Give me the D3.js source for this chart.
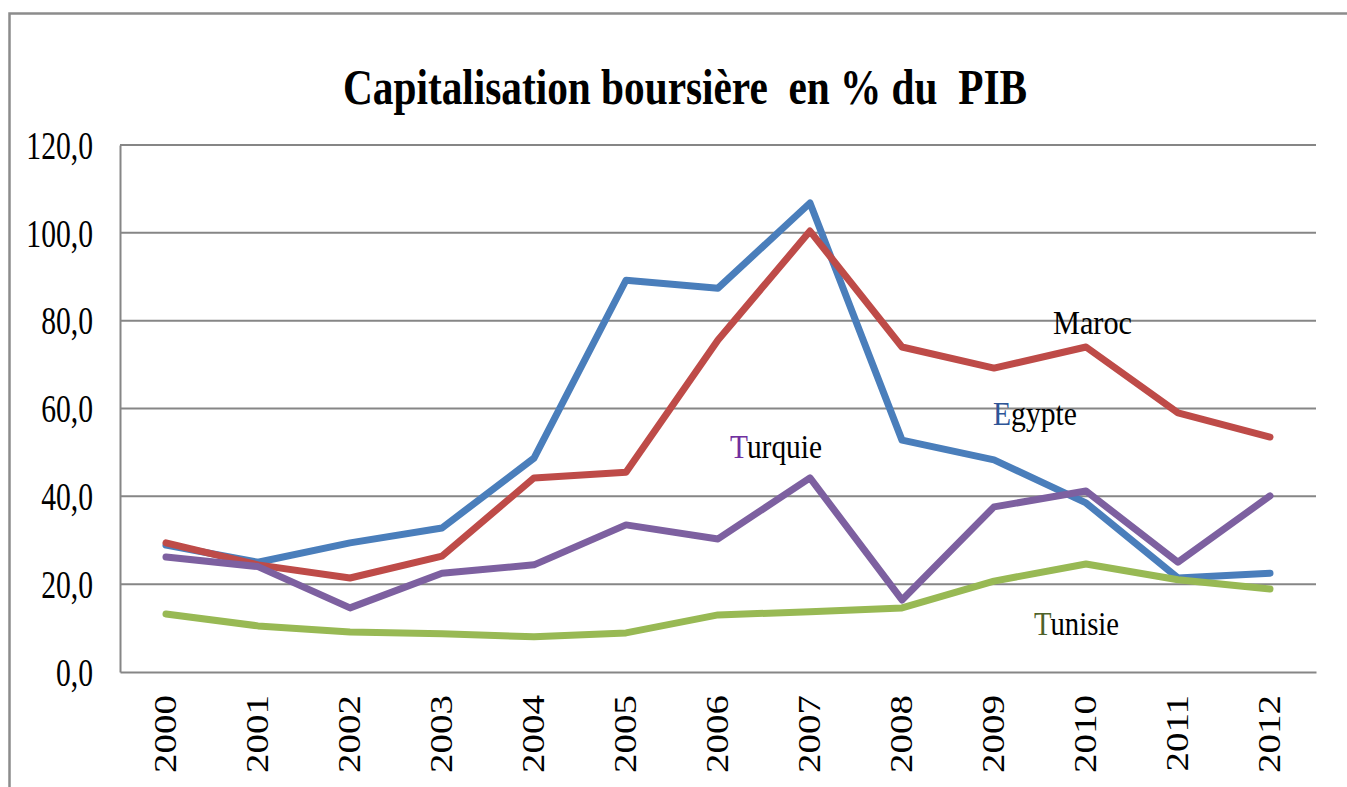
<!DOCTYPE html>
<html>
<head>
<meta charset="utf-8">
<script src="https://cdn.jsdelivr.net/npm/d3@7"></script>
<style>
  body { margin: 0; background: #fff; }
  svg { display: block; font-family: 'Liberation Serif', 'Times New Roman', serif; }
</style>
</head>
<body>
<div class="canvas"></div>
<script>
const years = ['2000', '2001', '2002', '2003', '2004', '2005', '2006', '2007', '2008', '2009', '2010', '2011', '2012']
const egypte = [28.9, 25.0, 29.4, 32.8, 48.7, 89.2, 87.4, 106.8, 52.8, 48.3, 38.5, 21.4, 22.5]
const maroc = [29.4, 24.4, 21.4, 26.4, 44.2, 45.5, 75.6, 100.4, 74.0, 69.2, 74.0, 59.0, 53.5]
const turquie = [26.2, 24.0, 14.6, 22.5, 24.4, 33.5, 30.3, 44.2, 16.4, 37.6, 41.2, 25.0, 40.1]
const tunisie = [13.2, 10.5, 9.1, 8.7, 8.0, 8.9, 13.0, 13.7, 14.6, 20.7, 24.6, 21.0, 18.9]
const yTicks = [0, 20, 40, 60, 80, 100, 120]

const width = 1347
const height = 787
const margin = { top: 145, right: 31, bottom: 115, left: 120 }
const graphWidth = width - margin.left - margin.right
const graphHeight = height - margin.top - margin.bottom

const svg = d3.select('.canvas').append('svg')
  .attr('width', width)
  .attr('height', height)

// outer frame (runs off the right and bottom edges)
svg.append('rect')
  .attr('x', 9.5).attr('y', 13.5)
  .attr('width', 1400).attr('height', 900)
  .attr('fill', 'none')
  .attr('stroke', '#8c8c8c')
  .attr('stroke-width', 2.5)

svg.append('text')
  .attr('x', 343).attr('y', 104)
  .attr('font-size', 50)
  .attr('font-weight', 'bold')
  .attr('textLength', 684)
  .attr('lengthAdjust', 'spacingAndGlyphs')
  .style('white-space', 'pre')
  .text('Capitalisation boursière  en % du  PIB')

const graph = svg.append('g')
  .attr('transform', `translate(${margin.left}, ${margin.top})`)

const x = d3.scaleBand()
  .domain(years)
  .range([0, graphWidth])

const y = d3.scaleLinear()
  .domain([0, 120])
  .range([graphHeight, 0])

// gridlines
graph.append('g').selectAll('line')
  .data(yTicks.filter(d => d > 0))
  .enter().append('line')
  .attr('x1', 0).attr('x2', graphWidth)
  .attr('y1', d => y(d)).attr('y2', d => y(d))
  .attr('stroke', '#868686')
  .attr('stroke-width', 2)

const yAxis = d3.axisLeft(y)
  .tickValues(yTicks)
  .tickSize(0)
  .tickFormat(d => d3.format('.1f')(d).replace('.', ','))

const xAxis = d3.axisBottom(x)
  .tickSize(0)

const yAxisGroup = graph.append('g').call(yAxis)
const xAxisGroup = graph.append('g')
  .attr('transform', `translate(0,${graphHeight})`)
  .call(xAxis)

yAxisGroup.select('.domain').attr('stroke', '#868686').attr('stroke-width', 2)
xAxisGroup.select('.domain').attr('stroke', '#868686').attr('stroke-width', 2)

yAxisGroup.selectAll('text')
  .attr('x', 0)
  .attr('dy', '0.34em')
  .attr('transform', 'translate(-27,0) scale(0.76,1)')
  .attr('font-family', "'Liberation Serif', serif")
  .attr('font-size', 39)
  .attr('fill', '#000')

xAxisGroup.selectAll('text')
  .attr('x', 0).attr('y', 0)
  .attr('dy', '0.33em')
  .attr('text-anchor', 'end')
  .attr('transform', 'translate(0,23) scale(0.8,1) rotate(-90)')
  .attr('font-family', "'Liberation Serif', serif")
  .attr('font-size', 39)
  .attr('fill', '#000')

const series = [
  { name: 'Egypte', values: egypte, color: '#4a7ebb' },
  { name: 'Maroc', values: maroc, color: '#be4b48' },
  { name: 'Turquie', values: turquie, color: '#7d60a0' },
  { name: 'Tunisie', values: tunisie, color: '#98b954' }
]

const line = d3.line()
  .x((d, i) => x(years[i]) + x.bandwidth() / 2)
  .y(d => y(d))

graph.selectAll('path.serie')
  .data(series)
  .enter().append('path')
  .attr('class', 'serie')
  .attr('d', d => line(d.values))
  .attr('fill', 'none')
  .attr('stroke', d => d.color)
  .attr('stroke-width', 7)
  .attr('stroke-linecap', 'round')
  .attr('stroke-linejoin', 'round')

// series names written inside the plot, first letter coloured
const labels = [
  { first: '', rest: 'Maroc', color: '#000', x: 1053, y: 334, len: 79 },
  { first: 'E', rest: 'gypte', color: '#2e5597', x: 993, y: 425, len: 84 },
  { first: 'T', rest: 'urquie', color: '#7030a0', x: 730, y: 458, len: 92 },
  { first: 'T', rest: 'unisie', color: '#4f6228', x: 1034, y: 635, len: 85 }
]

const lab = svg.selectAll('text.lab')
  .data(labels)
  .enter().append('text')
  .attr('class', 'lab')
  .attr('x', d => d.x).attr('y', d => d.y)
  .attr('font-size', 33)
  .attr('textLength', d => d.len)
  .attr('lengthAdjust', 'spacingAndGlyphs')

lab.append('tspan').attr('fill', d => d.color).text(d => d.first)
lab.append('tspan').attr('fill', '#000').text(d => d.rest)
</script>
</body>
</html>
